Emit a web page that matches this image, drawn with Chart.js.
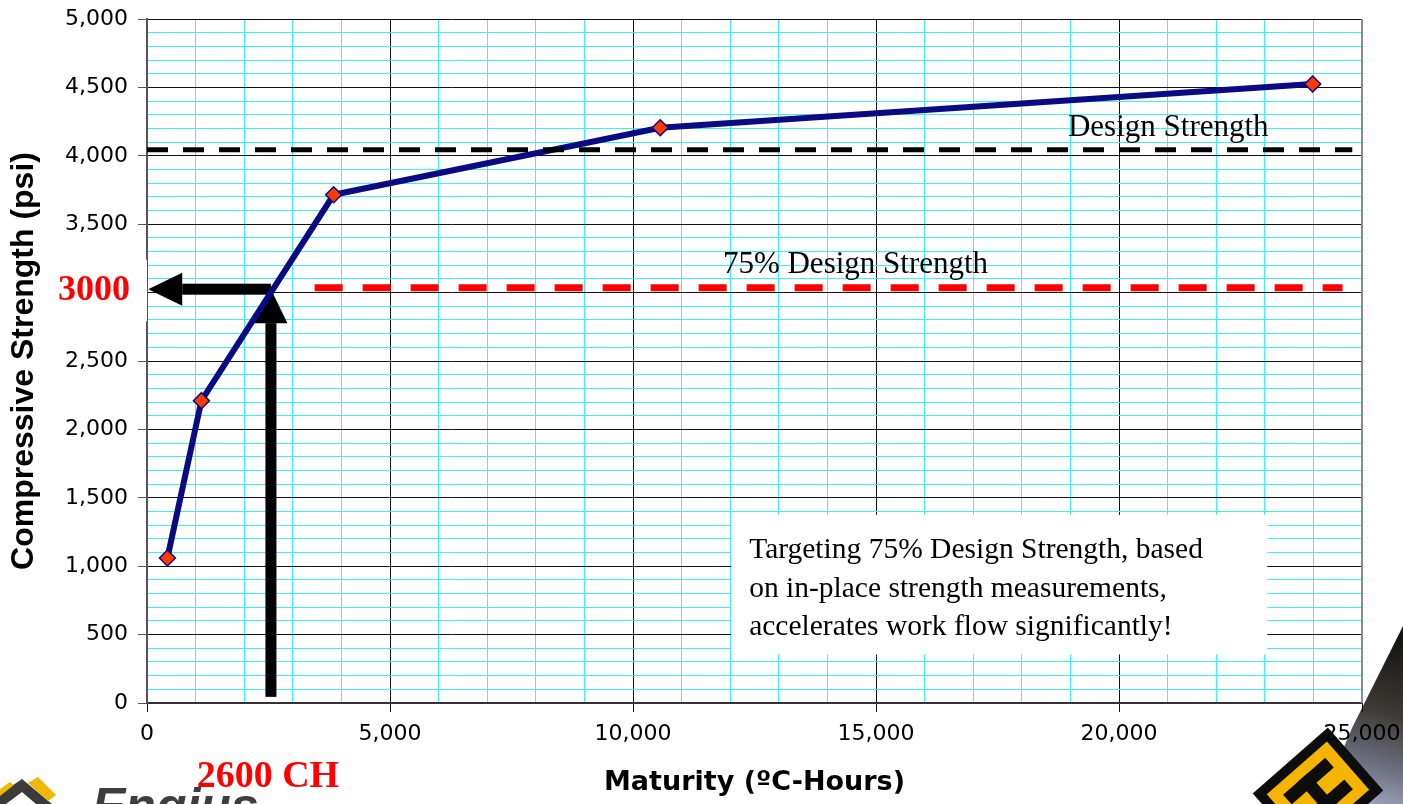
<!DOCTYPE html>
<html>
<head>
    <meta charset="utf-8" />
    <title>Maturity vs Compressive Strength</title>
    <script src="https://cdn.jsdelivr.net/npm/chart.js"></script>
    <style>
        body { margin: 0; padding: 0; background: white; }
        #wrap { width: 1403px; height: 804px; }
    </style>
</head>
<body>
    <div id="wrap"><canvas id="grafico" width="1403" height="804"></canvas></div>
    <script>
        // data
        const maturity = [420, 1120, 3840, 10560, 23985];
        const strength = [1060, 2210, 3715, 4205, 4525];
        const designStrength = 4045;
        const targetStrength = 3035;
        const designLineX = [0, 24800];
        const targetLineX = [3450, 24600];
        const crossing = { x: 2550, y: 3000 };

        const cyan = '#3ff0f0';
        const serif = '"Liberation Serif", "Times New Roman", serif';
        const sans = '"Liberation Sans", Arial, sans-serif';
        const wide = '"DejaVu Sans", Verdana, sans-serif';

        function arrow(ctx, x0, y0, x1, y1, shaft, headW, headL) {
            const ang = Math.atan2(y1 - y0, x1 - x0);
            const len = Math.hypot(x1 - x0, y1 - y0);
            ctx.save();
            ctx.translate(x0, y0);
            ctx.rotate(ang);
            ctx.fillStyle = '#000';
            ctx.fillRect(0, -shaft / 2, len - headL, shaft);
            ctx.beginPath();
            ctx.moveTo(len, 0);
            ctx.lineTo(len - headL, -headW / 2);
            ctx.lineTo(len - headL, headW / 2);
            ctx.closePath();
            ctx.fill();
            ctx.restore();
        }

        const notas = {
            id: 'notas',
            beforeDraw(chart) {
                const ctx = chart.ctx;
                ctx.save();
                // bottom-left logo
                ctx.fillStyle = '#3b3b3b';
                ctx.beginPath();
                ctx.moveTo(0, 794); ctx.lineTo(22, 779); ctx.lineTo(52, 804); ctx.lineTo(36, 804);
                ctx.lineTo(22, 792); ctx.lineTo(6, 804); ctx.lineTo(0, 804); ctx.closePath();
                ctx.fill();
                ctx.fillStyle = '#f2b705';
                ctx.beginPath();
                ctx.moveTo(0, 789); ctx.lineTo(10, 782); ctx.lineTo(14, 785); ctx.lineTo(0, 796); ctx.closePath();
                ctx.fill();
                ctx.beginPath();
                ctx.moveTo(28, 783); ctx.lineTo(38, 777); ctx.lineTo(56, 795); ctx.lineTo(48, 801); ctx.closePath();
                ctx.fill();
                ctx.fillStyle = '#3e3e3e';
                ctx.font = 'italic bold 50px ' + sans;
                ctx.textAlign = 'left';
                ctx.fillText('Engius', 92, 823);
                // bottom-right picture
                const g = ctx.createLinearGradient(1395, 630, 1345, 804);
                g.addColorStop(0, '#111');
                g.addColorStop(0.45, '#3e3a35');
                g.addColorStop(0.75, '#6d7080');
                g.addColorStop(1, '#a6abc4');
                ctx.fillStyle = g;
                ctx.beginPath();
                ctx.moveTo(1403, 626); ctx.lineTo(1403, 804); ctx.lineTo(1320, 804); ctx.lineTo(1352, 728);
                ctx.closePath();
                ctx.fill();
                ctx.translate(1318, 792);
                ctx.rotate(-0.72);
                ctx.fillStyle = '#0d0d0d';
                ctx.fillRect(-50, -42, 100, 84);
                ctx.fillStyle = '#f4b400';
                ctx.fillRect(-40, -32, 80, 64);
                ctx.fillStyle = '#0d0d0d';
                ctx.fillRect(-28, -21, 56, 13);
                ctx.fillRect(-28, 8, 56, 13);
                ctx.fillRect(-8, -21, 13, 42);
                ctx.restore();
            },
            beforeDatasetsDraw(chart) {
                const ctx = chart.ctx;
                const xs = chart.scales.x, ys = chart.scales.y;
                const a = chart.chartArea;
                // right border of plot
                ctx.save();
                ctx.strokeStyle = '#8a8a8a';
                ctx.lineWidth = 2;
                ctx.beginPath();
                ctx.moveTo(a.right, a.top);
                ctx.lineTo(a.right, a.bottom);
                ctx.stroke();
                // white patch over the axis behind "3000"
                ctx.fillStyle = '#fff';
                const yt = ys.getPixelForValue(3240), yb = ys.getPixelForValue(2790);
                ctx.fillRect(46, yt, a.left - 46, yb - yt);
                // arrows
                const cx = xs.getPixelForValue(crossing.x);
                const cy = ys.getPixelForValue(crossing.y + 25);
                arrow(ctx, cx, ys.getPixelForValue(45), cx, cy, 11, 33, 34);
                arrow(ctx, cx, cy, xs.getPixelForValue(25), cy, 11, 33, 34);
                // red labels
                ctx.fillStyle = '#ff0000';
                ctx.font = 'bold 36px ' + serif;
                ctx.textBaseline = 'middle';
                ctx.textAlign = 'right';
                ctx.fillText('3000', 130, cy + 2);
                ctx.font = 'bold 38px ' + serif;
                ctx.textAlign = 'center';
                ctx.textBaseline = 'alphabetic';
                ctx.fillText('2600 CH', cx - 3, 787);
                // line labels
                ctx.fillStyle = '#000';
                ctx.font = '31px ' + serif;
                ctx.textAlign = 'left';
                ctx.fillText('Design Strength', xs.getPixelForValue(18950), ys.getPixelForValue(4145));
                ctx.fillText('75% Design Strength', xs.getPixelForValue(11850), ys.getPixelForValue(3145));
                // text box
                const bx = xs.getPixelForValue(12020), bx2 = xs.getPixelForValue(23050);
                const by = ys.getPixelForValue(1375), by2 = ys.getPixelForValue(355);
                ctx.fillStyle = '#fff';
                ctx.fillRect(bx, by, bx2 - bx, by2 - by);
                ctx.fillStyle = '#000';
                ctx.font = '29.5px ' + serif;
                ctx.fillText('Targeting 75% Design Strength, based', bx + 18, by + 43);
                ctx.fillText('on in-place strength measurements,', bx + 18, by + 82);
                ctx.fillText('accelerates work flow significantly!', bx + 18, by + 120);
                ctx.restore();
            }
        };

        new Chart(document.getElementById('grafico'), {
            type: 'scatter',
            data: {
                datasets: [
                    {
                        label: 'Design Strength',
                        data: designLineX.map(x => ({ x: x, y: designStrength })),
                        showLine: true,
                        borderColor: '#000',
                        borderWidth: 5,
                        borderDash: [21, 15],
                        pointRadius: 0
                    },
                    {
                        label: '75% Design Strength',
                        data: targetLineX.map(x => ({ x: x, y: targetStrength })),
                        showLine: true,
                        borderColor: '#ff0000',
                        borderWidth: 7,
                        borderDash: [28, 20],
                        pointRadius: 0
                    },
                    {
                        label: 'Strength',
                        data: maturity.map((x, i) => ({ x: x, y: strength[i] })),
                        showLine: true,
                        borderColor: '#0a0a82',
                        borderWidth: 6,
                        pointStyle: 'rectRot',
                        pointRadius: 8,
                        pointBackgroundColor: '#ff3a00',
                        pointBorderColor: '#0a0a82',
                        pointBorderWidth: 1.5
                    }
                ]
            },
            options: {
                responsive: false,
                animation: false,
                layout: { padding: { top: 19, right: 41, left: 0, bottom: 0 } },
                plugins: { legend: { display: false }, tooltip: { enabled: false } },
                scales: {
                    x: {
                        type: 'linear',
                        min: 0, max: 25000,
                        afterFit: s => { s.height = 101; s.paddingLeft = 0; s.paddingRight = 0; },
                        border: { color: '#333', width: 2 },
                        grid: {
                            color: c => c.tick.value % 5000 === 0 ? '#111' : cyan,
                            tickColor: c => c.tick.value % 5000 === 0 ? '#111' : 'rgba(0,0,0,0)',
                            tickLength: 9,
                            lineWidth: 1
                        },
                        ticks: {
                            stepSize: 1000,
                            autoSkip: false,
                            maxRotation: 0,
                            padding: 9,
                            color: '#000',
                            font: { family: wide, size: 22 },
                            callback: v => v % 5000 === 0 ? v.toLocaleString('en-US') : ''
                        },
                        title: {
                            display: true,
                            text: 'Maturity (ºC-Hours)',
                            color: '#000',
                            font: { family: wide, size: 27, weight: 'bold' },
                            padding: { top: 0, bottom: 5 }
                        }
                    },
                    y: {
                        min: 0, max: 5000,
                        afterFit: s => { s.width = 147; s.paddingTop = 0; s.paddingBottom = 0; },
                        border: { color: '#555', width: 2 },
                        grid: {
                            color: c => c.tick.value % 500 === 0 ? '#111' : cyan,
                            tickColor: c => c.tick.value % 500 === 0 ? '#555' : 'rgba(0,0,0,0)',
                            tickLength: 9,
                            lineWidth: 1
                        },
                        ticks: {
                            stepSize: 100,
                            autoSkip: false,
                            padding: 10,
                            color: '#000',
                            font: { family: wide, size: 22 },
                            callback: v => v % 500 === 0 ? v.toLocaleString('en-US') : ''
                        },
                        title: {
                            display: true,
                            text: 'Compressive Strength (psi)',
                            color: '#000',
                            font: { family: sans, size: 32, weight: 'bold' },
                            padding: { top: 5, bottom: 0 }
                        }
                    }
                }
            },
            plugins: [notas]
        });
    </script>
</body>
</html>
